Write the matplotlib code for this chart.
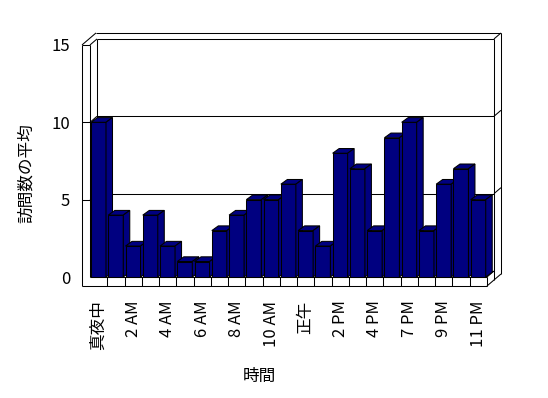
import matplotlib
matplotlib.use('Agg')
import matplotlib.pyplot as plt
from matplotlib.patches import Polygon, Rectangle

plt.rcParams['font.family'] = ['Noto Sans CJK JP', 'DejaVu Sans']

hours = ['真夜中', '1 AM', '2 AM', '3 AM', '4 AM', '5 AM', '6 AM', '7 AM',
         '8 AM', '9 AM', '10 AM', '11 AM', '正午', '1 PM', '2 PM', '3 PM',
         '4 PM', '5 PM', '7 PM', '8 PM', '9 PM', '10 PM', '11 PM']
visits = [10, 4, 2, 4, 2, 1, 1, 3, 4, 5, 5, 6, 3, 2, 8, 7, 3, 9, 10, 3, 6, 7, 5]
yticks = [0, 5, 10, 15]
ymax = 15

W, H, DPI = 548, 398, 100
cat_px = 17.26   # pixels per category
val_px = 15.47   # pixels per unit
org = (90, 277)  # front-left-bottom corner, pixels

n = len(hours)
# oblique depth / wall thickness, in data units
dx, dy = 7 / cat_px, 6 / val_px
tw, tf = 8 / cat_px, 9 / val_px
bdx, bdy = 6.5 / cat_px, 4.7 / val_px
gap, bw = 1 / cat_px, 15 / cat_px
navy = '#000080'
lw = 0.75

fig = plt.figure(figsize=(W / DPI, H / DPI), dpi=DPI)
x0, x1 = -tw, n + 2 * dx
y0, y1 = -tf, ymax + 2 * dy
ax = fig.add_axes([(org[0] + x0 * cat_px) / W,
                   (H - org[1] + y0 * val_px) / H,
                   (x1 - x0) * cat_px / W,
                   (y1 - y0) * val_px / H])
ax.set_xlim(x0, x1)
ax.set_ylim(y0, y1)
for s in ax.spines.values():
    s.set_visible(False)
ax.patch.set_visible(False)


def seg(xs, ys):
    ax.plot(xs, ys, color='k', lw=lw, clip_on=False,
            solid_capstyle='butt', zorder=1)


# walls and floor
seg([-tw, -tw], [-tf, ymax])
seg([0, 0], [0, ymax])
seg([-tw, 0], [ymax, ymax])
seg([-tw, n], [-tf, -tf])
seg([0, n], [0, 0])
seg([n, n], [-tf, 0])
seg([-tw, -tw + 2 * dx], [ymax, ymax + 2 * dy])
seg([0, dx], [ymax, ymax + dy])
seg([dx, dx], [dy, ymax + dy])
seg([dx, n + dx], [ymax + dy, ymax + dy])
seg([-tw + 2 * dx, n + 2 * dx], [ymax + 2 * dy, ymax + 2 * dy])
seg([n + dx, n + dx], [-tf + dy, ymax + dy])
seg([n + 2 * dx, n + 2 * dx], [-tf + 2 * dy, ymax + 2 * dy])
seg([n, n + 2 * dx], [-tf, -tf + 2 * dy])
seg([n + dx, n + 2 * dx], [ymax + dy, ymax + 2 * dy])
seg([dx, n + dx], [dy, dy])
seg([n, n + dx], [0, dy])

# gridlines and value ticks
for v in yticks[1:-1]:
    seg([dx, n + dx], [v + dy, v + dy])
    seg([n + dx, n + 2 * dx], [v + dy, v + 2 * dy])
    seg([0, dx], [v, v + dy])
    seg([-tw, 0], [v, v])

# category ticks on the floor front
for i in range(1, n):
    seg([i, i], [-tf, 0])

# bars
for i, v in enumerate(visits):
    xl = i + gap
    xr = xl + bw
    z = 2 + i * 0.01
    ax.add_patch(Rectangle((xl, 0), bw, v, fc=navy, ec='k', lw=lw, zorder=z))
    ax.add_patch(Polygon([(xl, v), (xr, v), (xr + bdx, v + bdy), (xl + bdx, v + bdy)],
                         closed=True, fc=navy, ec='k', lw=lw, zorder=z))
    ax.add_patch(Polygon([(xr, 0), (xr + bdx, bdy), (xr + bdx, v + bdy), (xr, v)],
                         closed=True, fc=navy, ec='k', lw=lw, zorder=z))

ax.set_yticks(yticks)
ax.set_xticks([i + 0.5 for i in range(0, n, 2)], hours[::2], rotation=90)
ax.tick_params(axis='y', length=0, pad=8.5, labelsize=12)
ax.tick_params(axis='x', length=0, pad=10.5, labelsize=12)

fig.text(26 / W, 1 - 173 / H, '訪問数の平均', rotation=90,
         ha='center', va='center', fontsize=12)
fig.text(259 / W, 1 - 376 / H, '時間', ha='center', va='center', fontsize=12)

fig.savefig('out.png', dpi=DPI)
